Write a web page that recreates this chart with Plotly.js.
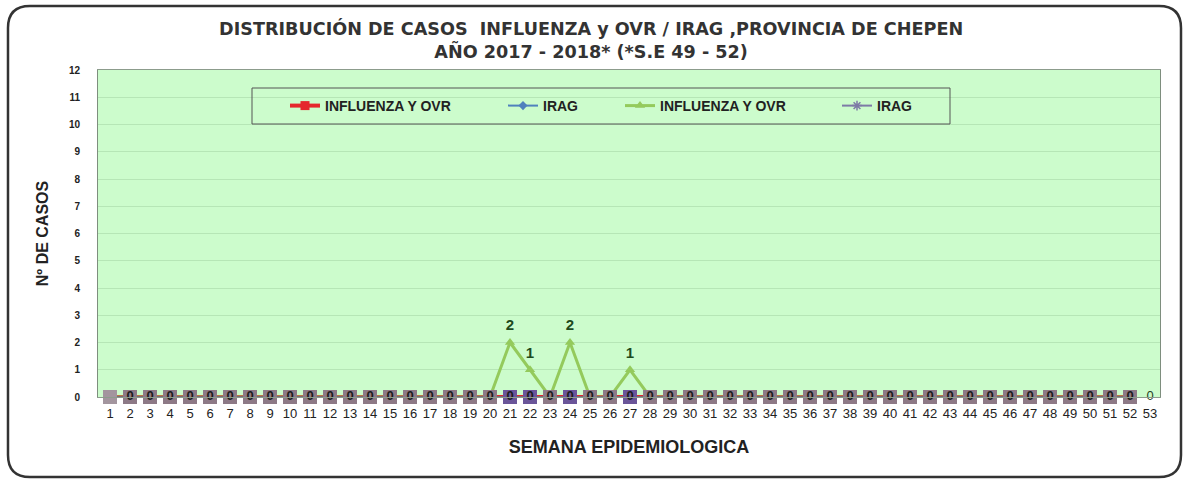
<!DOCTYPE html>
<html>
<head>
<meta charset="utf-8">
<script src="https://cdn.plot.ly/plotly-3.0.1.min.js"></script>
<style>
  html, body { margin: 0; padding: 0; background: #ffffff; }
  #chart { width: 1187px; height: 481px; }
</style>
</head>
<body>
<div id="chart"></div>
<script>
// ---------------- DATA ----------------
const weeks = [1,2,3,4,5,6,7,8,9,10,11,12,13,14,15,16,17,18,19,20,21,22,23,24,25,26,27,28,29,30,31,32,33,34,35,36,37,38,39,40,41,42,43,44,45,46,47,48,49,50,51,52];
const weekTicks = [1,2,3,4,5,6,7,8,9,10,11,12,13,14,15,16,17,18,19,20,21,22,23,24,25,26,27,28,29,30,31,32,33,34,35,36,37,38,39,40,41,42,43,44,45,46,47,48,49,50,51,52,53];
const weekTickLabels = ["1","2","3","4","5","6","7","8","9","10","11","12","13","14","15","16","17","18","19","20","21","22","23","24","25","26","27","28","29","30","31","32","33","34","35","36","37","38","39","40","41","42","43","44","45","46","47","48","49","50","51","52","53"];

const influenzaOvrA = [0,0,0,0,0,0,0,0,0,0,0,0,0,0,0,0,0,0,0,0,0,0,0,0,0,0,0,0,0,0,0,0,0,0,0,0,0,0,0,0,0,0,0,0,0,0,0,0,0,0,0,0];
const iragA         = [0,0,0,0,0,0,0,0,0,0,0,0,0,0,0,0,0,0,0,0,0,0,0,0,0,0,0,0,0,0,0,0,0,0,0,0,0,0,0,0,0,0,0,0,0,0,0,0,0,0,0,0];
const influenzaOvrB = [0,0,0,0,0,0,0,0,0,0,0,0,0,0,0,0,0,0,0,0,2,1,0,2,0,0,1,0,0,0,0,0,0,0,0,0,0,0,0,0,0,0,0,0,0,0,0,0,0,0,0,0];
const iragB         = [0,0,0,0,0,0,0,0,0,0,0,0,0,0,0,0,0,0,0,0,0,0,0,0,0,0,0,0,0,0,0,0,0,0,0,0,0,0,0,0,0,0,0,0,0,0,0,0,0,0,0,0];
// lone data label shown at week 53
const extraWeek = [53];
const extraValue = [0];

const seriesNames = ["INFLUENZA Y OVR", "IRAG", "INFLUENZA Y OVR", "IRAG"];
const yTicks = [0,1,2,3,4,5,6,7,8,9,10,11,12];

// ---------------- LAYOUT HELPERS ----------------
const W = 1187, H = 481;
const M = { l: 98, r: 27, t: 70, b: 84 };
const PW = W - M.l - M.r, PH = H - M.t - M.b;
const px = x => (x - M.l) / PW;
const py = y => (H - M.b - y) / PH;

function roundedRectPath(x0, y0, x1, y1, r) {
  const f = (x, y) => px(x).toFixed(5) + ',' + py(y).toFixed(5);
  return 'M' + f(x0 + r, y0) + ' L' + f(x1 - r, y0) + ' Q' + f(x1, y0) + ' ' + f(x1, y0 + r) +
         ' L' + f(x1, y1 - r) + ' Q' + f(x1, y1) + ' ' + f(x1 - r, y1) +
         ' L' + f(x0 + r, y1) + ' Q' + f(x0, y1) + ' ' + f(x0, y1 - r) +
         ' L' + f(x0, y0 + r) + ' Q' + f(x0, y0) + ' ' + f(x0 + r, y0) + ' Z';
}

const bandColors = influenzaOvrB.map((v, i) => i === 0 ? '#a3959e' : (v > 0 ? '#6a5599' : '#8d7986'));
const bandText = iragB.map((v, i) => i === 0 ? '' : String(v));
const greenText = influenzaOvrB.map(v => v > 0 ? String(v) : '');

const legendFont = { family: 'Liberation Sans, Arial, sans-serif', size: 14, color: '#222', weight: 'bold' };

const traces = [
  { x: weeks, y: influenzaOvrA, name: seriesNames[0], type: 'scatter', mode: 'lines+markers',
    line: { color: '#e5282d', width: 4 }, marker: { symbol: 'square', size: 9, color: '#e5282d' },
    legend: 'legend', cliponaxis: false },
  { x: weeks, y: iragA, name: seriesNames[1], type: 'scatter', mode: 'lines+markers',
    line: { color: '#4f81bd', width: 2 }, marker: { symbol: 'diamond', size: 7, color: '#4f81bd' },
    legend: 'legend2', cliponaxis: false },
  { x: weeks, y: influenzaOvrB, name: seriesNames[2], type: 'scatter', mode: 'lines+markers',
    line: { color: '#94ca5c', width: 3 }, marker: { symbol: 'triangle-up', size: 9, color: '#94ca5c' },
    legend: 'legend3', cliponaxis: false },
  { x: weeks, y: iragB, name: seriesNames[3], type: 'scatter', mode: 'lines+markers',
    line: { color: '#7d7aa6', width: 2 }, marker: { symbol: 'asterisk-open', size: 8, line: { color: '#7d7aa6', width: 1.5 } },
    legend: 'legend4', cliponaxis: false },
  // overlapping markers at zero (as they appear in the chart)
  { x: weeks, y: iragB, type: 'scatter', mode: 'lines+markers+text', showlegend: false,
    line: { color: '#7b6a77', width: 2 }, marker: { symbol: 'square', size: 14, color: bandColors },
    text: bandText, textposition: 'middle center',
    textfont: { family: 'Liberation Sans, Arial, sans-serif', size: 13, color: '#1a1a1a', weight: 'bold' },
    cliponaxis: false, hoverinfo: 'skip' },
  { x: weeks, y: influenzaOvrB, type: 'scatter', mode: 'markers+text', showlegend: false,
    text: greenText, textposition: 'top center', marker: { size: 12, opacity: 0 },
    textfont: { family: 'Liberation Sans, Arial, sans-serif', size: 15, color: '#1d4a1d', weight: 'bold' },
    cliponaxis: false, hoverinfo: 'skip' },
  { x: extraWeek, y: extraValue, type: 'scatter', mode: 'text', showlegend: false,
    text: extraValue.map(String), textposition: 'middle center',
    textfont: { family: 'Liberation Sans, Arial, sans-serif', size: 13, color: '#254525' },
    cliponaxis: false, hoverinfo: 'skip' }
];

function legendAt(xPix) {
  return { x: px(xPix), y: py(106), xanchor: 'left', yanchor: 'middle', orientation: 'h',
           bgcolor: 'rgba(0,0,0,0)', borderwidth: 0, font: legendFont, itemwidth: 30 };
}

const layout = {
  width: W, height: H,
  margin: M,
  paper_bgcolor: '#ffffff',
  plot_bgcolor: '#ccfccc',
  font: { family: 'Liberation Sans, Arial, sans-serif', color: '#222' },
  title: {
    text: 'DISTRIBUCIÓN DE CASOS \u00a0INFLUENZA y OVR / IRAG ,PROVINCIA DE CHEPEN<br>AÑO 2017 - 2018* (*S.E 49 - 52)',
    font: { family: 'DejaVu Sans, sans-serif', size: 17.6, color: '#333', weight: 'bold' },
    x: 0.498, xanchor: 'center', xref: 'container',
    y: 1 - 35 / H, yanchor: 'middle', yref: 'container'
  },
  xaxis: {
    range: [0.4, 53.5], tickmode: 'array', tickvals: weekTicks, ticktext: weekTickLabels,
    showgrid: false, zeroline: false, showline: true, mirror: true, linecolor: '#8c9c8c', linewidth: 1,
    tickfont: { family: 'Liberation Sans, Arial, sans-serif', size: 13, color: '#222' },
    ticks: '', ticklabelstandoff: 4,
    title: { text: 'SEMANA EPIDEMIOLOGICA', standoff: 20,
             font: { family: 'Liberation Sans, Arial, sans-serif', size: 18, color: '#222', weight: 'bold' } }
  },
  yaxis: {
    range: [0, 12], tickmode: 'array', tickvals: yTicks, ticktext: yTicks.map(String),
    showgrid: true, gridcolor: '#b6e6b6', gridwidth: 1, zeroline: false,
    showline: true, mirror: true, linecolor: '#7e8e7e', linewidth: 1,
    tickfont: { family: 'Liberation Sans, Arial, sans-serif', size: 10, color: '#222', weight: 'bold' },
    ticks: '', ticklabelstandoff: 15,
    title: { text: 'Nº DE CASOS', standoff: 16,
             font: { family: 'Liberation Sans, Arial, sans-serif', size: 16, color: '#222', weight: 'bold' } }
  },
  showlegend: true,
  legend: legendAt(285),
  legend2: legendAt(503),
  legend3: legendAt(620),
  legend4: legendAt(837),
  shapes: [
    { type: 'rect', xref: 'paper', yref: 'paper', x0: px(252), x1: px(950), y0: py(124), y1: py(88),
      line: { color: '#555', width: 1 }, fillcolor: 'rgba(0,0,0,0)', layer: 'above' },
    { type: 'path', xref: 'paper', yref: 'paper', path: roundedRectPath(8, 6, 1181, 477, 22),
      line: { color: '#333', width: 2.5 }, fillcolor: 'rgba(0,0,0,0)', layer: 'above' }
  ]
};

Plotly.newPlot('chart', traces, layout, { displayModeBar: false, responsive: false });
</script>
</body>
</html>
